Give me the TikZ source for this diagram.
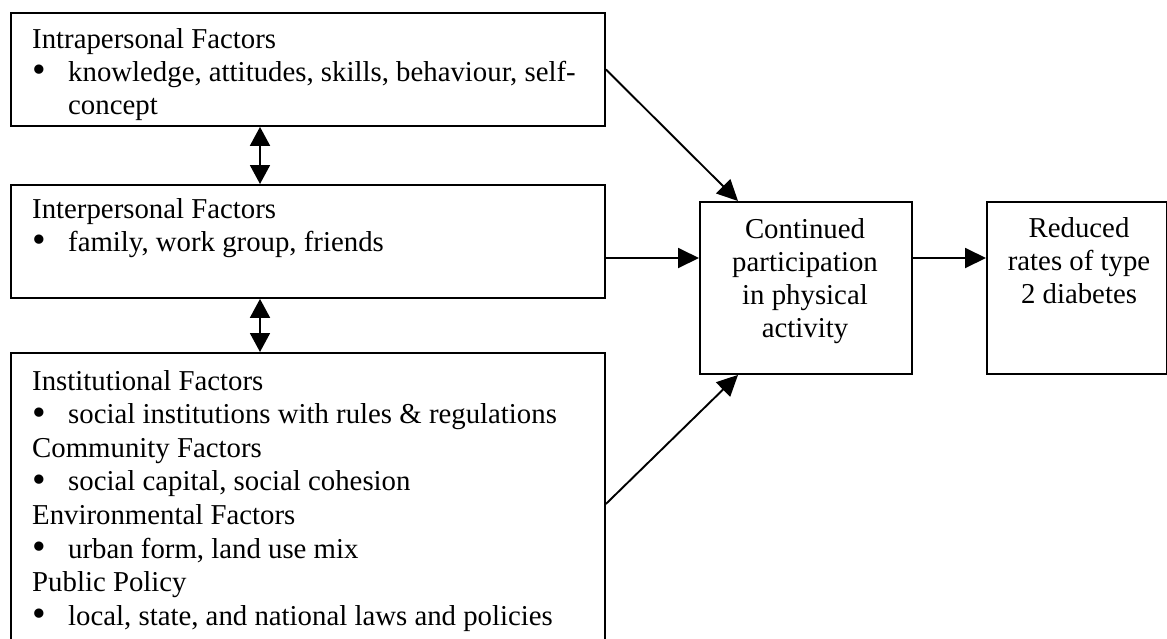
\documentclass[tikz,border=0pt]{standalone}
\usepackage{fontspec}
\setmainfont{Liberation Serif}
\usetikzlibrary{arrows.meta,positioning,calc}

\newcommand{\bul}{\makebox[36pt][l]{\raisebox{-1.5pt}{\scalebox{1.35}{\textbullet}}}}

\begin{document}
\begin{tikzpicture}[x=1pt, y=-1pt,
  every node/.style={font=\fontsize{28.8}{33.2}\selectfont},
  factorbox/.style={draw, line width=1.9pt, inner sep=0pt, anchor=north west, minimum width=594pt},
  outcomebox/.style={draw, line width=1.9pt, inner sep=0pt, anchor=north west, minimum height=172pt},
  boxtext/.style={inner sep=0pt, anchor=base west},
  outtext/.style={inner sep=0pt, anchor=base},
  link/.style={line width=1.9pt, -{Triangle[length=21pt,width=20pt]}},
  twoway/.style={line width=1.9pt, {Triangle[length=19pt,width=20pt]}-{Triangle[length=19pt,width=20pt]}}]
  \useasboundingbox (0,0) rectangle (1167,638);
  \clip (0,0) rectangle (1167,638);

  % levels of influence
  \node[factorbox, minimum height=113pt] (intra) at (10,12) {};
  \node[factorbox, minimum height=113pt] (inter) at (10,184) {};
  \node[factorbox, minimum height=302pt] (inst)  at (10,352) {};

  \node[boxtext] (intratxt) at (32,48) {\begin{tabular}[t]{@{}l@{}}
    Intrapersonal Factors\\
    \bul knowledge, attitudes, skills, behaviour, self-\\
    \hspace*{36pt}concept\end{tabular}};
  \node[boxtext] (intertxt) at (32,218) {\begin{tabular}[t]{@{}l@{}}
    Interpersonal Factors\\
    \bul family, work group, friends\end{tabular}};
  \node[boxtext] (insttxt) at (32,390) {\fontsize{28.8}{33.6}\selectfont\begin{tabular}[t]{@{}l@{}}
    Institutional Factors\\
    \bul social institutions with rules \& regulations\\
    Community Factors\\
    \bul social capital, social cohesion\\
    Environmental Factors\\
    \bul urban form, land use mix\\
    Public Policy\\
    \bul local, state, and national laws and policies\end{tabular}};

  % outcomes
  \node[outcomebox, minimum width=212pt] (mid) at (699,201) {};
  \node[outcomebox, minimum width=180pt] (out) at (986,201) {};
  \node[outtext] (midtxt) at (805,238) {\begin{tabular}[t]{@{}c@{}}
    Continued\\participation\\in physical\\activity\end{tabular}};
  \node[outtext] (outtxt) at (1079,237) {\begin{tabular}[t]{@{}c@{}}
    Reduced\\rates of type\\2 diabetes\end{tabular}};

  \coordinate (axis) at (260,0);
  \coordinate (row) at (0,258);
  \draw[twoway] (intra.south -| axis) -- (inter.north -| axis);
  \draw[twoway] (inter.south -| axis) -- (inst.north -| axis);
  \draw[link] (intra.east) -- (mid.128);
  \draw[link] (inter.east |- row) -- (mid.west |- row);
  \draw[link] (inst.east) -- (mid.232);
  \draw[link] (mid.east |- row) -- (out.west |- row);
\end{tikzpicture}
\end{document}
